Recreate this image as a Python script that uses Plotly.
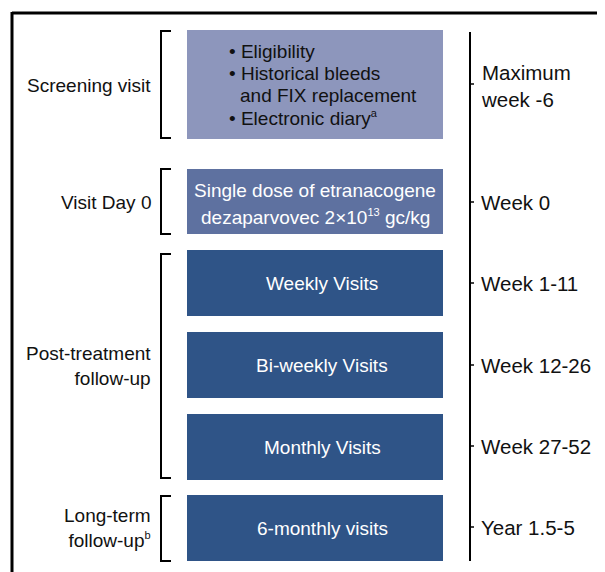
import plotly.graph_objects as go

# ---- content ----
phase_labels = ["Screening visit", "Visit Day 0", "Post-treatment<br>follow-up",
                "Long-term<br>follow-up<sup><span style='font-size:11px'>b</span></sup>"]
timeline_labels = ["Maximum<br>week -6", "Week 0", "Week 1-11", "Week 12-26", "Week 27-52", "Year 1.5-5"]
screening_items = ["• Eligibility", "• Historical bleeds", "and FIX replacement",
                   "• Electronic diary<sup><span style='font-size:11px'>a</span></sup>"]
dose_lines = ["Single dose of etranacogene",
              "dezaparvovec 2×10<sup><span style='font-size:11px'>13</span></sup> gc/kg"]
visit_boxes = ["Weekly Visits", "Bi-weekly Visits", "Monthly Visits", "6-monthly visits"]

# ---- layout geometry (screen pixels) ----
W, H = 605, 572
OFF = 8  # page body margin
BOX_X0, BOX_X1 = 187, 443
box_rows = [(30, 139), (169, 234), (250, 316), (332, 398), (414, 480), (495, 561)]
box_colors = ["#8d96bc", "#5e71a0", "#2f5487", "#2f5487", "#2f5487", "#2f5487"]
bracket_rows = [(31, 138), (169, 234), (254, 478), (496, 561)]
phase_y = [85, 202, 366, 528]
tick_y = [84, 202, 283, 365, 446, 527]
label_y = [86, 202, 283, 365, 446, 527]
TL_X = 470
FONT = "Liberation Sans, Arial, sans-serif"
FS = 19
FS_TL = 20.5

fig = go.Figure()
fig.add_trace(go.Scatter(x=[OFF, W], y=[OFF, H], mode="markers", marker=dict(opacity=0),
                         hoverinfo="skip", showlegend=False))

shapes = []
shapes.append(dict(type="line", x0=12, y0=13, x1=W + 5, y1=13, line=dict(color="black", width=3)))
shapes.append(dict(type="line", x0=12, y0=12, x1=12, y1=H + 5, line=dict(color="black", width=3)))

for (y0, y1), c in zip(box_rows, box_colors):
    shapes.append(dict(type="rect", x0=BOX_X0, x1=BOX_X1, y0=y0, y1=y1, fillcolor=c,
                       line=dict(width=0), layer="below"))

for y0, y1 in bracket_rows:
    path = f"M 171,{y0} L 161,{y0} L 161,{y1} L 171,{y1}"
    shapes.append(dict(type="path", path=path, line=dict(color="black", width=2)))

shapes.append(dict(type="line", x0=TL_X, x1=TL_X, y0=32, y1=561, line=dict(color="black", width=2)))
for ty in tick_y:
    shapes.append(dict(type="line", x0=TL_X, x1=TL_X + 4, y0=ty, y1=ty, line=dict(color="black", width=1.5)))

ann = []
for lab, y in zip(phase_labels, phase_y):
    ann.append(dict(x=153, y=y, text=lab, xanchor="right", yanchor="middle", align="right",
                    showarrow=False, font=dict(family=FONT, size=FS, color="#111")))
for lab, y in zip(timeline_labels, label_y):
    ann.append(dict(x=479, y=y, text=lab, xanchor="left", yanchor="middle", align="left",
                    showarrow=False, font=dict(family=FONT, size=FS_TL, color="#111")))

screen_y = [51, 73, 95, 118]
screen_x = [227, 227, 238, 227]
for t, x, y in zip(screening_items, screen_x, screen_y):
    ann.append(dict(x=x, y=y, text=t, xanchor="left", yanchor="middle", showarrow=False,
                    font=dict(family=FONT, size=FS, color="#111")))

for t, y in zip(dose_lines, [190, 217]):
    ann.append(dict(x=315, y=y, text=t, xanchor="center", yanchor="middle", showarrow=False,
                    font=dict(family=FONT, size=FS, color="white")))

for t, (y0, y1) in zip(visit_boxes, box_rows[2:]):
    ann.append(dict(x=322, y=(y0 + y1) / 2, text=t, xanchor="center", yanchor="middle", showarrow=False,
                    font=dict(family=FONT, size=FS, color="white")))

fig.update_layout(
    width=W - OFF, height=H - OFF,
    margin=dict(l=0, r=0, t=0, b=0),
    paper_bgcolor="white", plot_bgcolor="white",
    xaxis=dict(range=[OFF, W], visible=False, fixedrange=True),
    yaxis=dict(range=[H, OFF], visible=False, fixedrange=True),
    shapes=shapes, annotations=ann, showlegend=False,
)
fig.write_html("out.html")
